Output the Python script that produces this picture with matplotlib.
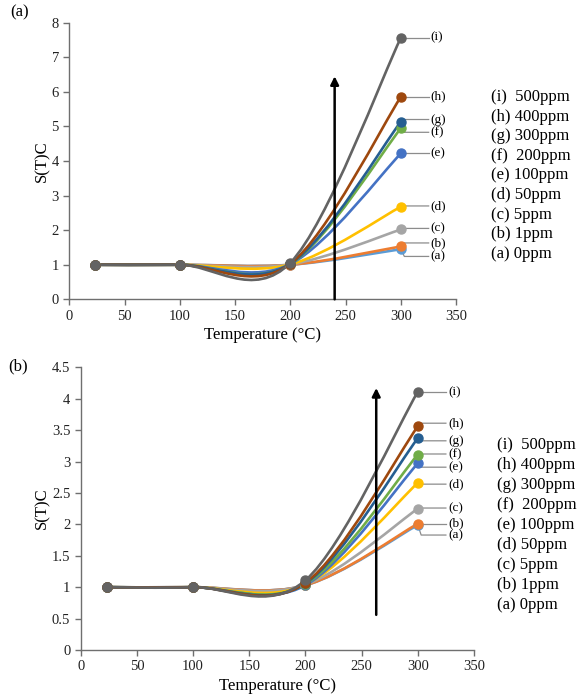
import matplotlib
matplotlib.use("Agg")
import matplotlib.pyplot as plt
from matplotlib.path import Path
from matplotlib.patches import PathPatch
from matplotlib.ticker import FuncFormatter, MultipleLocator

plt.rcParams["font.family"] = ["Liberation Serif", "DejaVu Serif"]

# measurement temperatures (°C)
temperature = [23, 100, 200, 300]

series_ids = ["(a)", "(b)", "(c)", "(d)", "(e)", "(f)", "(g)", "(h)", "(i)"]
legend_text = ["(a) 0ppm", "(b) 1ppm", "(c) 5ppm", "(d) 50ppm", "(e) 100ppm",
               "(f)  200ppm", "(g) 300ppm", "(h) 400ppm", "(i)  500ppm"]
colors = ["#5B9BD5", "#ED7D31", "#A5A5A5", "#FFC000", "#4472C4",
          "#70AD47", "#255E91", "#9E480E", "#636363"]

# panel (a)
top_a = [1.0, 1.0, 1.0, 1.45]
top_b = [1.0, 1.0, 1.0, 1.53]
top_c = [1.0, 1.0, 1.01, 2.02]
top_d = [1.0, 1.0, 1.01, 2.68]
top_e = [1.0, 1.0, 1.02, 4.22]
top_f = [1.0, 1.0, 1.02, 4.95]
top_g = [1.0, 1.0, 1.03, 5.14]
top_h = [1.0, 1.0, 1.03, 5.86]
top_i = [1.0, 1.0, 1.06, 7.57]
top_series = [top_a, top_b, top_c, top_d, top_e, top_f, top_g, top_h, top_i]
top_label_y = [1.24, 1.63, 2.05, 2.7, 4.22, 4.83, 5.2, 5.86, 7.57]

# panel (b)
bot_a = [1.0, 1.0, 1.03, 1.99]
bot_b = [1.0, 1.0, 1.03, 2.01]
bot_c = [1.0, 1.0, 1.04, 2.25]
bot_d = [1.0, 1.0, 1.04, 2.66]
bot_e = [1.0, 1.0, 1.03, 2.97]
bot_f = [1.0, 1.0, 1.05, 3.11]
bot_g = [1.0, 1.0, 1.06, 3.37]
bot_h = [1.0, 1.0, 1.07, 3.56]
bot_i = [1.0, 1.0, 1.11, 4.11]
bot_series = [bot_a, bot_b, bot_c, bot_d, bot_e, bot_f, bot_g, bot_h, bot_i]
bot_label_y = [1.83, 2.01, 2.26, 2.64, 2.91, 3.12, 3.33, 3.61, 4.11]


def smooth_path(x, y):
    # Catmull-Rom style bezier, close to Excel's "smoothed line"
    n = len(x)
    verts = [(x[0], y[0])]
    codes = [Path.MOVETO]
    for i in range(n - 1):
        xp, yp = (x[i - 1], y[i - 1]) if i > 0 else (x[i], y[i])
        xn, yn = (x[i + 2], y[i + 2]) if i + 2 < n else (x[i + 1], y[i + 1])
        c1 = (x[i] + (x[i + 1] - xp) / 6, y[i] + (y[i + 1] - yp) / 6)
        c2 = (x[i + 1] - (xn - x[i]) / 6, y[i + 1] - (yn - y[i]) / 6)
        verts += [c1, c2, (x[i + 1], y[i + 1])]
        codes += [Path.CURVE4] * 3
    return Path(verts, codes)


def style_axes(ax, ymax, ystep):
    ax.set_xlim(0, 350)
    ax.set_ylim(0, ymax)
    ax.xaxis.set_major_locator(MultipleLocator(50))
    ax.yaxis.set_major_locator(MultipleLocator(ystep))
    ax.yaxis.set_major_formatter(FuncFormatter(lambda v, p: f"{v:g}"))
    for side in ("top", "right"):
        ax.spines[side].set_visible(False)
    for side in ("left", "bottom"):
        ax.spines[side].set_color("#6f6f6f")
        ax.spines[side].set_linewidth(1.0)
    ax.tick_params(direction="out", length=4, width=1.0, color="#6f6f6f",
                   labelsize=10.5, labelcolor="#222222")
    ax.set_xlabel("Temperature (°C)", fontsize=12, labelpad=3)
    ax.set_ylabel("S(T)C", fontsize=12, labelpad=1)


def draw_panel(ax, series, label_y):
    for vals, col, sid, ly in zip(series, colors, series_ids, label_y):
        ax.add_patch(PathPatch(smooth_path(temperature, vals), fill=False,
                               edgecolor=col, lw=1.9, zorder=2))
        ax.plot(temperature, vals, linestyle="none", marker="o", markersize=6.5,
                color=col, zorder=3)
        ax.plot([temperature[-1], temperature[-1] + 3, 325], [vals[-1], ly, ly],
                color="#8c8c8c", lw=0.9, zorder=1, clip_on=False)
        ax.text(327, ly, sid, fontsize=9.5, va="center", ha="left")


fig = plt.figure(figsize=(5.82, 7.0), dpi=100)

ax1 = fig.add_axes([0.119, 0.5724, 0.665, 0.3952])
style_axes(ax1, 8, 1)
draw_panel(ax1, top_series, top_label_y)
ax1.annotate("", xy=(240, 6.45), xytext=(240, 0),
             arrowprops=dict(arrowstyle="-|>", color="black", lw=1.8,
                             mutation_scale=12, shrinkA=0, shrinkB=0), zorder=5)

ax2 = fig.add_axes([0.1387, 0.0714, 0.6757, 0.4039])
style_axes(ax2, 4.5, 0.5)
draw_panel(ax2, bot_series, bot_label_y)
ax2.annotate("", xy=(263, 4.17), xytext=(263, 0.56),
             arrowprops=dict(arrowstyle="-|>", color="black", lw=1.8,
                             mutation_scale=12, shrinkA=0, shrinkB=0), zorder=5)

fig.text(10 / 582, 1 - 12 / 700, "(a)", fontsize=12, ha="left", va="center")
fig.text(8 / 582, 1 - 366 / 700, "(b)", fontsize=12, ha="left", va="center")

# legend-like text columns, listed from (i) down to (a)
for k, line in enumerate(legend_text[::-1]):
    fig.text(491 / 582, 1 - (97 + 19.6 * k) / 700, line, fontsize=12, va="center")
    fig.text(497 / 582, 1 - (445 + 20 * k) / 700, line, fontsize=12, va="center")

fig.savefig("out.png", dpi=100)
